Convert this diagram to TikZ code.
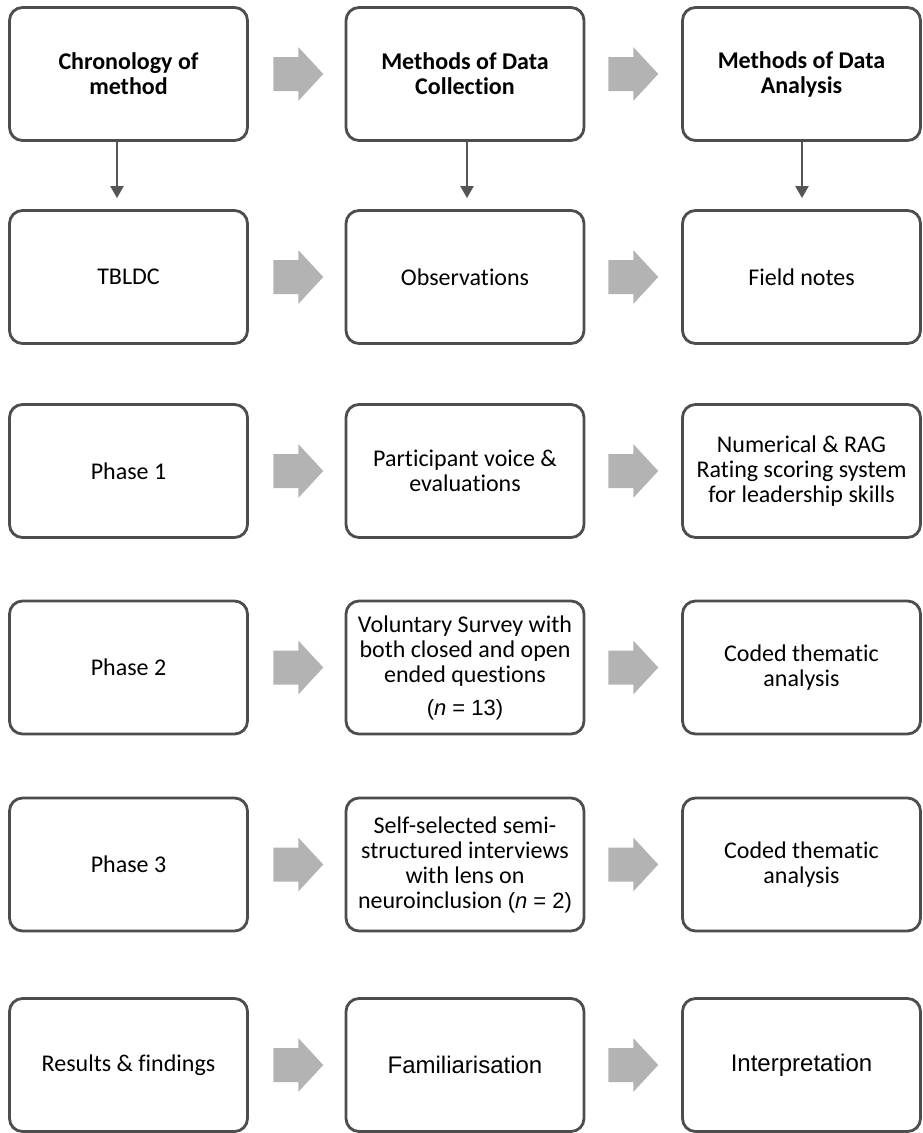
\documentclass[tikz,border=0pt]{standalone}
\usepackage{fontspec}
\setmainfont[Ligatures=NoCommon]{Carlito}
\newfontfamily\arialf{Liberation Sans}
\usetikzlibrary{arrows.meta,calc}
\definecolor{boxline}{HTML}{4D4D4D}
\definecolor{arrowgray}{HTML}{B3B3B3}
\definecolor{vline}{HTML}{555555}
\begin{document}
\begin{tikzpicture}[x=1pt,y=-1pt,
  box/.style={draw=boxline, line width=2.8pt, rounded corners=13pt, fill=white,
    minimum width=238pt, minimum height=133pt, align=center, inner sep=2pt,
    font=\fontsize{24}{25}\selectfont, text=black},
  hdr/.style={box, font=\fontsize{24}{25}\selectfont\bfseries},
  arialtxt/.style={font=\arialf\fontsize{24}{25}\selectfont},
  varrow/.style={draw=vline, line width=2.2pt, -{Triangle[length=12pt,width=13pt]}},
  blockarr/.pic={\fill[arrowgray] (-25,-17) -- (0,-17) -- (0,-27) -- (25,0) -- (0,27) -- (0,17) -- (-25,17) -- cycle;}
]
\useasboundingbox (0,0) rectangle (923,1133);
% row 1
\node[hdr] (a1) at (128.5,74) {Chronology of\\method};
\node[hdr] (b1) at (465,74) {Methods of Data\\Collection};
\node[hdr] (c1) at (801.5,74) {Methods of Data\\Analysis};
% row 2
\node[box] (a2) at (128.5,277) {TBLDC};
\node[box] (b2) at (465,277) {Observations};
\node[box] (c2) at (801.5,277) {Field notes};
% row 3
\node[box] (a3) at (128.5,471) {Phase 1};
\node[box] (b3) at (465,471) {Participant voice \&\\evaluations};
\node[box] (c3) at (801.5,471) {Numerical \& RAG\\Rating scoring system\\for leadership skills};
% row 4
\node[box] (a4) at (128.5,667.5) {Phase 2};
\node[box] (b4) at (465,667.5) {Voluntary Survey with\\both closed and open\\ended questions\\[8pt]{\arialf\fontsize{22}{25}\selectfont(\textit{n} = 13)}};
\node[box] (c4) at (801.5,667.5) {Coded thematic\\analysis};
% row 5
\node[box] (a5) at (128.5,864.5) {Phase 3};
\node[box] (b5) at (465,864.5) {Self-selected semi-\\structured interviews\\with lens on\\neuroinclusion {\arialf\fontsize{22}{25}\selectfont(\textit{n} = 2)}};
\node[box] (c5) at (801.5,864.5) {Coded thematic\\analysis};
% row 6
\node[box] (a6) at (128.5,1065) {Results \& findings};
\node[box, arialtxt] (b6) at (465,1065) {Familiarisation};
\node[box, arialtxt] (c6) at (801.5,1065) {Interpretation};
% vertical arrows (free ends as named coordinates)
\coordinate (a1s) at ($(a1.south)+(-11.5,0)$);
\coordinate (b1s) at ($(b1.south)+(2,0)$);
\coordinate (c1s) at ($(c1.south)+(0.5,0)$);
\coordinate (a2n) at ($(a1s |- a2.north)+(0,-11)$);
\coordinate (b2n) at ($(b1s |- b2.north)+(0,-11)$);
\coordinate (c2n) at ($(c1s |- c2.north)+(0,-11)$);
\draw[varrow] (a1s) -- (a2n);
\draw[varrow] (b1s) -- (b2n);
\draw[varrow] (c1s) -- (c2n);
% block arrows
\foreach \r in {1,...,6}{
  \pic at ($(a\r.east)!0.5!(b\r.west)+(1.5,0)$) {blockarr};
  \pic at ($(b\r.east)!0.5!(c\r.west)$) {blockarr};
}
\end{tikzpicture}
\end{document}
